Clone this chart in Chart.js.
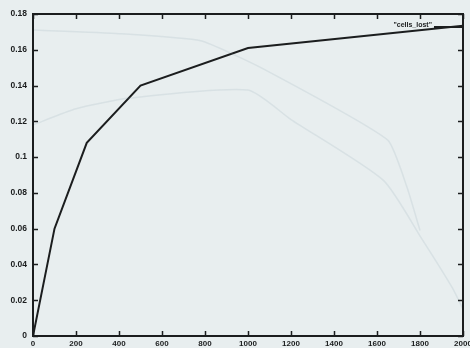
<!DOCTYPE html>
<html>
<head>
<meta charset="utf-8">
<script src="https://cdn.jsdelivr.net/npm/chart.js@4/dist/chart.umd.min.js"></script>
<style>
    html, body { margin: 0; padding: 0; background: #e8eeef; }
    #wrap { width: 470px; height: 348px; position: relative; }
</style>
</head>
<body>
<div id="wrap"><canvas id="chart" width="470" height="348"></canvas></div>
<script>
// ========================================
// Data
// ========================================
const cellsX = [0, 100, 250, 500, 1000, 2000];
const cellsLost = [0, 0.06, 0.108, 0.14, 0.161, 0.1735];

// faint show-through curves from the back of the page
const ghostAX = [0, 200, 450, 1000, 1200, 1630, 1810, 1950, 2000];
const ghostA = [0.118, 0.127, 0.133, 0.1375, 0.121, 0.087, 0.054, 0.027, 0.015];
const ghostBX = [0, 400, 780, 1060, 1650, 1740, 1800];
const ghostB = [0.171, 0.169, 0.165, 0.150, 0.1095, 0.083, 0.059];

const xTicks = [0, 200, 400, 600, 800, 1000, 1200, 1400, 1600, 1800, 2000];
const yTicks = [0, 0.02, 0.04, 0.06, 0.08, 0.1, 0.12, 0.14, 0.16, 0.18];
const seriesLabel = '"cells_lost"';

const INK = '#1b1d1e';
const GHOST = 'rgba(120, 150, 160, 0.14)';
const TICK_FONT = '"Liberation Sans", Arial, sans-serif';

function toPoints(xs, ys) {
    return xs.map((x, i) => ({ x: x, y: ys[i] }));
}

// Frame, inward ticks on all four sides, and the key
const framePlugin = {
    id: 'frame',
    afterDatasetsDraw(chart) {
        const ctx = chart.ctx;
        const area = chart.chartArea;
        const xs = chart.scales.x;
        const ys = chart.scales.y;
        const tick = 5;

        ctx.save();
        ctx.strokeStyle = INK;
        ctx.lineWidth = 1.5;
        ctx.beginPath();
        xTicks.forEach(v => {
            const px = Math.round(xs.getPixelForValue(v)) + 0.5;
            ctx.moveTo(px, area.bottom); ctx.lineTo(px, area.bottom - tick);
            ctx.moveTo(px, area.top); ctx.lineTo(px, area.top + tick);
        });
        yTicks.forEach(v => {
            const py = Math.round(ys.getPixelForValue(v)) + 0.5;
            ctx.moveTo(area.left, py); ctx.lineTo(area.left + tick, py);
            ctx.moveTo(area.right, py); ctx.lineTo(area.right - tick, py);
        });
        ctx.stroke();

        ctx.lineWidth = 2;
        ctx.strokeRect(area.left, area.top, area.right - area.left, area.bottom - area.top);

        // key
        const keyY = area.top + 12;
        ctx.font = 'bold 7px ' + TICK_FONT;
        ctx.fillStyle = INK;
        ctx.textAlign = 'right';
        ctx.textBaseline = 'middle';
        ctx.fillText(seriesLabel, area.right - 31, keyY - 1);
        ctx.lineWidth = 2;
        ctx.beginPath();
        ctx.moveTo(area.right - 29, keyY + 1);
        ctx.lineTo(area.right, keyY + 1);
        ctx.stroke();
        ctx.restore();
    }
};

document.addEventListener('DOMContentLoaded', function () {
    const ctx = document.getElementById('chart');

    new Chart(ctx, {
        type: 'line',
        data: {
            datasets: [
                {
                    data: toPoints(ghostAX, ghostA),
                    borderColor: GHOST,
                    borderWidth: 1.5,
                    pointRadius: 0,
                    tension: 0.2
                },
                {
                    data: toPoints(ghostBX, ghostB),
                    borderColor: GHOST,
                    borderWidth: 1.5,
                    pointRadius: 0,
                    tension: 0.15
                },
                {
                    label: seriesLabel,
                    data: toPoints(cellsX, cellsLost),
                    borderColor: INK,
                    borderWidth: 2,
                    pointRadius: 0,
                    tension: 0
                }
            ]
        },
        options: {
            responsive: false,
            animation: false,
            layout: { padding: { top: 14, right: 7, left: 0, bottom: 0 } },
            plugins: {
                legend: { display: false },
                tooltip: { enabled: false }
            },
            scales: {
                x: {
                    type: 'linear',
                    min: 0,
                    max: 2000,
                    grid: { display: false, drawTicks: false },
                    border: { display: false },
                    afterBuildTicks: s => { s.ticks = xTicks.map(v => ({ value: v })); },
                    afterFit: s => { s.height = 12; s.paddingLeft = 0; s.paddingRight = 0; },
                    ticks: {
                        padding: 3,
                        maxRotation: 0,
                        color: INK,
                        font: { family: TICK_FONT, size: 8, weight: 'bold' },
                        callback: v => String(v)
                    }
                },
                y: {
                    min: 0,
                    max: 0.18,
                    grid: { display: false, drawTicks: false },
                    border: { display: false },
                    afterBuildTicks: s => { s.ticks = yTicks.map(v => ({ value: v })); },
                    afterFit: s => { s.width = 33; s.paddingTop = 0; s.paddingBottom = 0; },
                    ticks: {
                        padding: 6,
                        color: INK,
                        font: { family: TICK_FONT, size: 8.5, weight: 'bold' },
                        callback: v => String(Number(v.toFixed(2)))
                    }
                }
            }
        },
        plugins: [framePlugin]
    });
});
</script>
</body>
</html>
